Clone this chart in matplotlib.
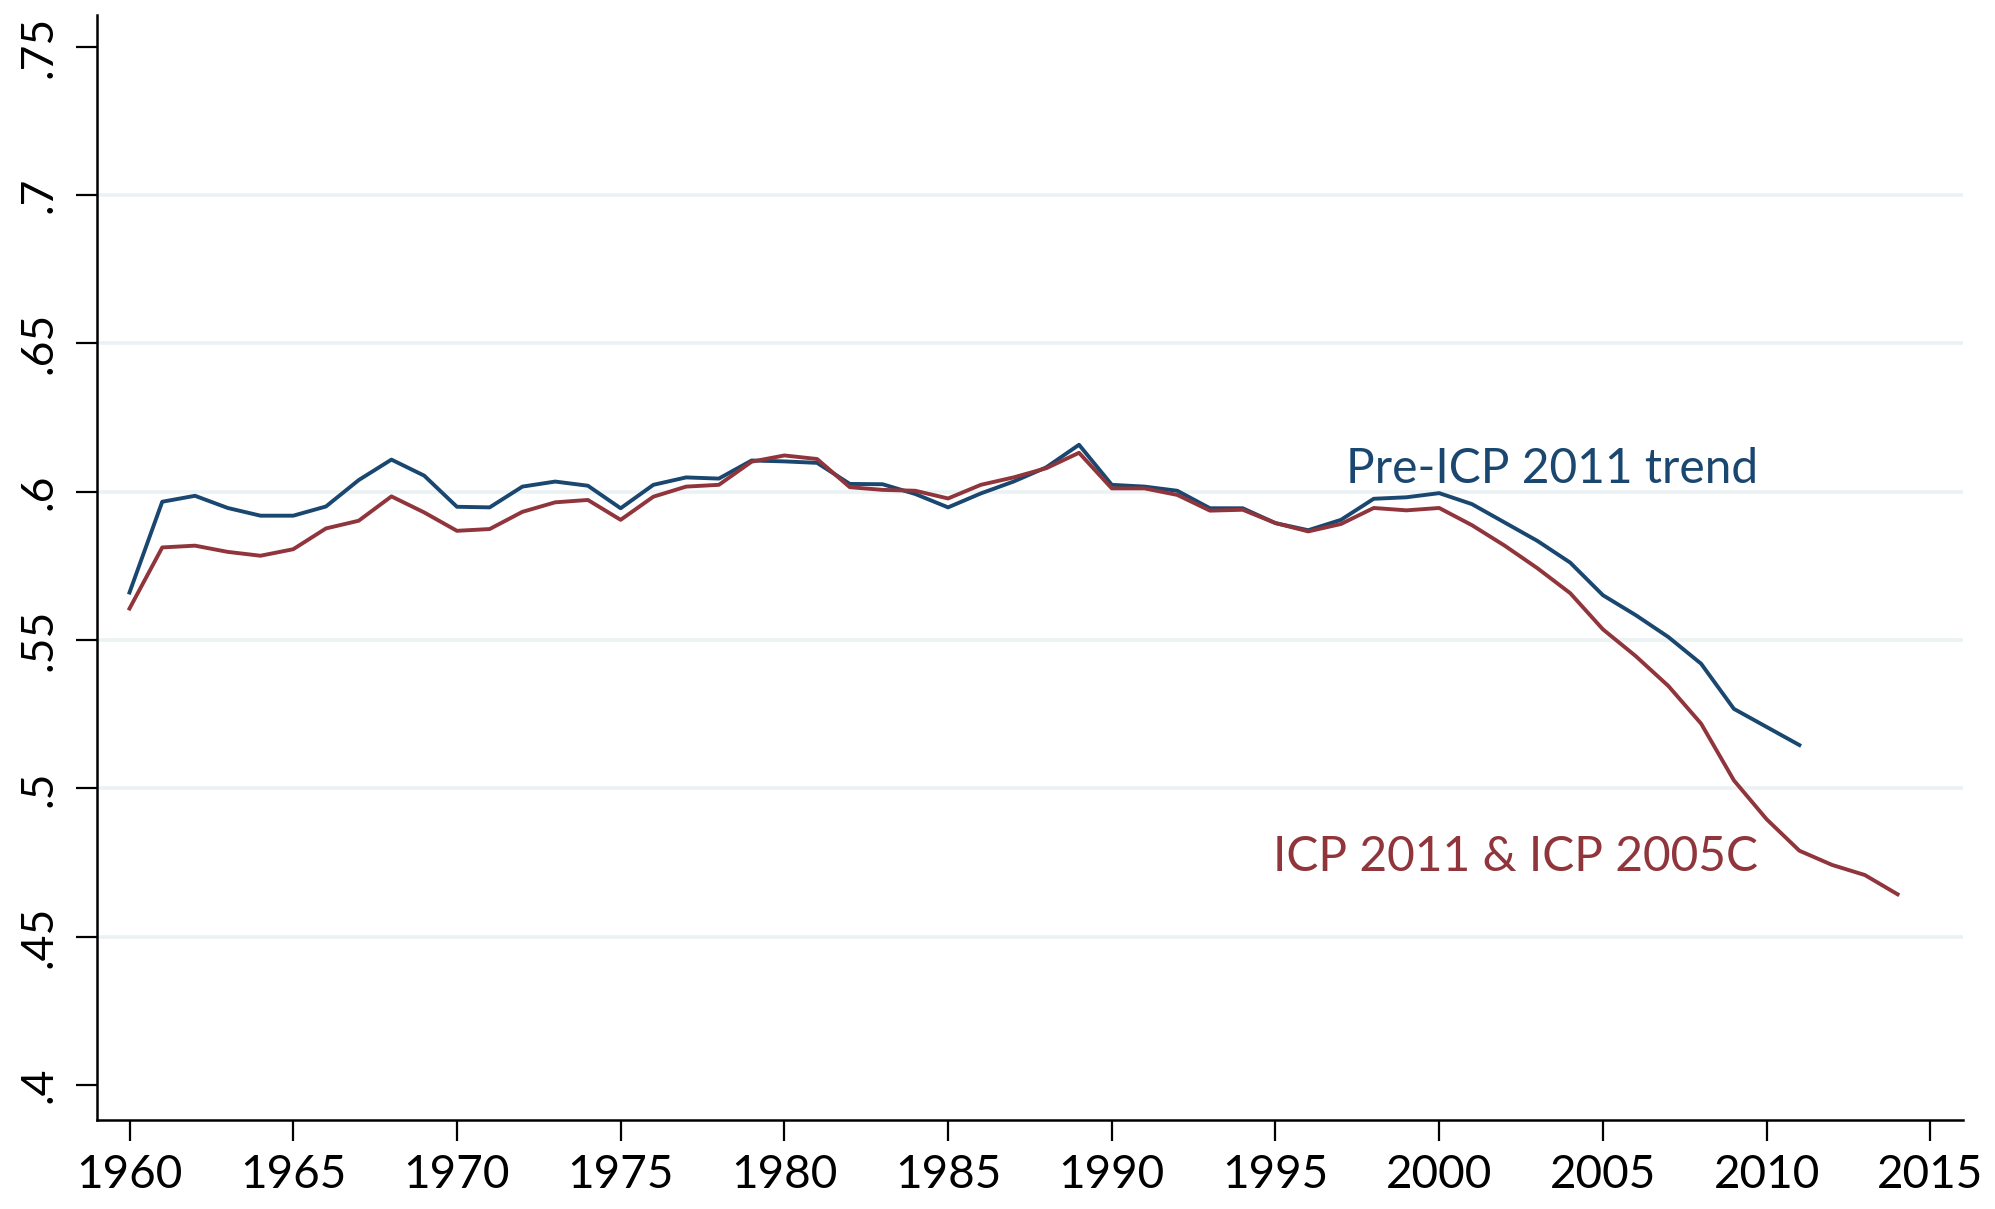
import numpy as np
import matplotlib.pyplot as plt

# ---------------------------------------------------------------
# Data
# ---------------------------------------------------------------
years_pre = list(range(1960, 2012))
pre_icp_2011 = [
    0.5660, 0.5966, 0.5986, 0.5945, 0.5919, 0.5919, 0.5950, 0.6039, 0.6108, 0.6054,
    0.5949, 0.5947, 0.6017, 0.6034, 0.6020, 0.5944, 0.6023, 0.6048, 0.6044, 0.6105,
    0.6102, 0.6097, 0.6026, 0.6025, 0.5992, 0.5947, 0.5994, 0.6034, 0.6082, 0.6158,
    0.6023, 0.6017, 0.6003, 0.5944, 0.5944, 0.5894, 0.5870, 0.5905, 0.5976, 0.5981,
    0.5995, 0.5958, 0.5896, 0.5834, 0.5761, 0.5651, 0.5584, 0.5510, 0.5420, 0.5268,
    0.5207, 0.5146,
]

years_icp = list(range(1960, 2015))
icp_2011_2005c = [
    0.5606, 0.5812, 0.5818, 0.5797, 0.5784, 0.5806, 0.5876, 0.5902, 0.5984, 0.5930,
    0.5868, 0.5874, 0.5932, 0.5964, 0.5972, 0.5905, 0.5983, 0.6017, 0.6023, 0.6101,
    0.6122, 0.6110, 0.6015, 0.6006, 0.6003, 0.5977, 0.6023, 0.6048, 0.6079, 0.6131,
    0.6011, 0.6011, 0.5989, 0.5936, 0.5939, 0.5894, 0.5866, 0.5891, 0.5945, 0.5937,
    0.5945, 0.5887, 0.5818, 0.5742, 0.5658, 0.5536, 0.5446, 0.5345, 0.5218, 0.5027,
    0.4896, 0.4790, 0.4742, 0.4708, 0.4643,
]

y_ticks = [0.40, 0.45, 0.50, 0.55, 0.60, 0.65, 0.70, 0.75]
y_tick_labels = [".4", ".45", ".5", ".55", ".6", ".65", ".7", ".75"]
x_ticks = list(range(1960, 2016, 5))

NAVY = "#1a476f"
MAROON = "#90353b"
GRID = "#eaf2f3"

plt.rcParams['font.family'] = ['Lato', 'DejaVu Sans']

fig = plt.figure(figsize=(19.95, 12.09), dpi=100)
ax = fig.add_axes([0.0485, 0.074, 0.9355, 0.914])

# horizontal grid lines at the inner ticks only
for yv in y_ticks[1:-1]:
    ax.axhline(yv, color=GRID, lw=2.6, zorder=0)

ax.plot(years_pre, pre_icp_2011, color=NAVY, lw=2.8, zorder=3)
ax.plot(years_icp, icp_2011_2005c, color=MAROON, lw=2.8, zorder=3)

ax.text(2009.75, 0.6029, "Pre-ICP 2011 trend", color=NAVY, fontsize=34.5,
        ha='right', va='baseline')
ax.text(2009.75, 0.4720, "ICP 2011 & ICP 2005C", color=MAROON, fontsize=34.5,
        ha='right', va='baseline')

ax.set_xlim(1959.0, 2016.0)
ax.set_ylim(0.3884, 0.7608)

ax.set_yticks(y_ticks)
ax.set_yticklabels(y_tick_labels, rotation=90, va='center', fontsize=32)
ax.set_xticks(x_ticks)
ax.set_xticklabels([str(x) for x in x_ticks], fontsize=33)

ax.tick_params(axis='both', direction='out', length=15, width=1.6, color='black',
               labelcolor='black')
ax.tick_params(axis='y', pad=12)
ax.tick_params(axis='x', pad=10)

for side in ['top', 'right']:
    ax.spines[side].set_visible(False)
for side in ['left', 'bottom']:
    ax.spines[side].set_linewidth(1.8)
    ax.spines[side].set_color('black')

fig.savefig("out.png", dpi=100, facecolor='white')
